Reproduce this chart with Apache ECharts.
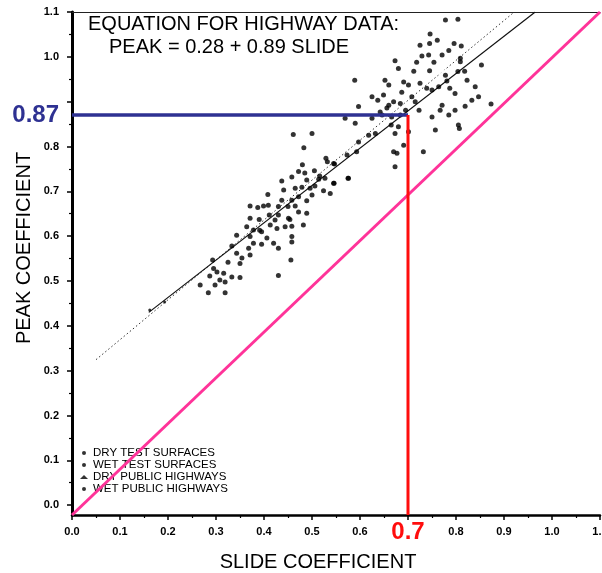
<!DOCTYPE html>
<html>
<head>
<meta charset="utf-8">
<script src="https://cdn.jsdelivr.net/npm/echarts@6.0.0/dist/echarts.min.js"></script>
<style>
  html, body { margin: 0; padding: 0; background: #fff; }
  #chart { width: 602px; height: 573px; }
</style>
</head>
<body>
<div id="chart"></div>
<script>
// Axis ranges and tick labels
const xTickValues = [0.0, 0.1, 0.2, 0.3, 0.4, 0.5, 0.6, 0.7, 0.8, 0.9, 1.0, 1.1];
const xMinorTicks = [0.05, 0.15, 0.25, 0.35, 0.45, 0.55, 0.65, 0.75, 0.85, 0.95, 1.05];
const yTickValues = [0.0, 0.1, 0.2, 0.3, 0.4, 0.5, 0.6, 0.7, 0.8, 0.9, 1.0, 1.1];
const yLabelValues = [0.0, 0.1, 0.2, 0.3, 0.4, 0.5, 0.6, 0.7, 0.8, 0.87, 1.0, 1.1];
const yMinorTicks = [0.05, 0.15, 0.25, 0.35, 0.45, 0.55, 0.65, 0.75, 0.85, 0.95, 1.05];

// Highlighted reading: slide 0.7 -> peak 0.87
const readSlide = 0.7;
const readPeak = 0.87;

// Regression for highway data
const fitIntercept = 0.28;
const fitSlope = 0.89;
const fitSlideRange = [0.05, 0.92];

// Overall fit through all data (solid line)
const overallFit = [[0.16, 0.43], [0.965, 1.10]];

// Measurements: [slide, peak]
const dryTestSurfaces = [[0.162, 0.435], [0.193, 0.453]];

const wetTestSurfaces = [
  [0.461, 0.827], [0.500, 0.829], [0.483, 0.797], [0.529, 0.774], [0.532, 0.766],
  [0.547, 0.761], [0.480, 0.759], [0.505, 0.746], [0.485, 0.741], [0.472, 0.744],
  [0.458, 0.732], [0.437, 0.723], [0.489, 0.725], [0.514, 0.727], [0.527, 0.729],
  [0.576, 0.729], [0.546, 0.718], [0.479, 0.709], [0.496, 0.707], [0.506, 0.712],
  [0.524, 0.701], [0.538, 0.695], [0.408, 0.693], [0.441, 0.703], [0.465, 0.707],
  [0.472, 0.688], [0.458, 0.680], [0.437, 0.680], [0.489, 0.679], [0.371, 0.667],
  [0.387, 0.664], [0.399, 0.667], [0.409, 0.669], [0.430, 0.666], [0.450, 0.666],
  [0.465, 0.667], [0.472, 0.654], [0.489, 0.651], [0.411, 0.647], [0.430, 0.647],
  [0.371, 0.640], [0.390, 0.637], [0.423, 0.636], [0.451, 0.640], [0.454, 0.637],
  [0.364, 0.621], [0.378, 0.614], [0.395, 0.610], [0.413, 0.625], [0.427, 0.617],
  [0.444, 0.621], [0.458, 0.622], [0.482, 0.625], [0.343, 0.602], [0.371, 0.599],
  [0.395, 0.582], [0.378, 0.584], [0.458, 0.599], [0.458, 0.587], [0.420, 0.584],
  [0.430, 0.573], [0.333, 0.578], [0.368, 0.573], [0.371, 0.558], [0.343, 0.562],
  [0.350, 0.539], [0.456, 0.547], [0.293, 0.547], [0.295, 0.528], [0.302, 0.520],
  [0.316, 0.517], [0.319, 0.498], [0.333, 0.509], [0.350, 0.508], [0.430, 0.512],
  [0.267, 0.491], [0.298, 0.491], [0.284, 0.474], [0.319, 0.474], [0.354, 0.551],
  [0.325, 0.542], [0.308, 0.502], [0.287, 0.511], [0.391, 0.613], [0.406, 0.596],
  [0.500, 0.692], [0.516, 0.734]
];

const dryPublicHighways = [
  [0.732, 0.967], [0.771, 0.964], [0.607, 0.859], [0.732, 0.840], [0.743, 0.848],
  [0.737, 0.820], [0.646, 0.807], [0.670, 0.818]
];

const wetPublicHighways = [
  [0.778, 1.082], [0.804, 1.084], [0.746, 1.051], [0.745, 1.030], [0.796, 1.030],
  [0.811, 1.024], [0.729, 1.002], [0.743, 1.004], [0.771, 1.004], [0.785, 1.014],
  [0.809, 0.997], [0.809, 0.989], [0.673, 0.991], [0.680, 0.974], [0.712, 0.968],
  [0.745, 0.969], [0.778, 0.959], [0.804, 0.967], [0.818, 0.968], [0.853, 0.982],
  [0.589, 0.948], [0.652, 0.948], [0.660, 0.937], [0.691, 0.944], [0.701, 0.937],
  [0.725, 0.941], [0.739, 0.930], [0.750, 0.926], [0.764, 0.933], [0.781, 0.946],
  [0.625, 0.911], [0.649, 0.915], [0.670, 0.900], [0.684, 0.896], [0.708, 0.911],
  [0.715, 0.900], [0.798, 0.918], [0.840, 0.933], [0.847, 0.911], [0.873, 0.895],
  [0.819, 0.890], [0.798, 0.881], [0.771, 0.892], [0.767, 0.881], [0.569, 0.863],
  [0.590, 0.852], [0.625, 0.863], [0.642, 0.877], [0.666, 0.866], [0.684, 0.870],
  [0.665, 0.848], [0.680, 0.844], [0.750, 0.866], [0.785, 0.870], [0.757, 0.837],
  [0.805, 0.848], [0.807, 0.840], [0.597, 0.810], [0.618, 0.825], [0.632, 0.829],
  [0.691, 0.803], [0.573, 0.781], [0.593, 0.788], [0.670, 0.788], [0.677, 0.785],
  [0.732, 0.788], [0.673, 0.755], [0.545, 0.762], [0.575, 0.729], [0.545, 0.718],
  [0.597, 0.889], [0.646, 0.870], [0.660, 0.892], [0.701, 0.833], [0.673, 0.829],
  [0.687, 0.921], [0.695, 0.881], [0.723, 0.881], [0.656, 0.886], [0.637, 0.903],
  [0.718, 0.988], [0.754, 0.988], [0.787, 0.930], [0.823, 0.948], [0.833, 0.903],
  [0.725, 1.026], [0.761, 1.037]
];

const seriesNames = ['DRY TEST SURFACES', 'WET TEST SURFACES', 'DRY PUBLIC HIGHWAYS', 'WET PUBLIC HIGHWAYS'];

// Plot frame
const xMin = 0, xMax = 1.1;
const yMin = -0.022, yMax = 1.1;

const FONT = '"Liberation Sans", Arial, sans-serif';
const BLUE = '#2e3192';
const RED = '#ff0d0d';
const PINK = '#ff3399';
const INK = '#000';

const near = (a, b) => Math.abs(a - b) < 1e-6;

const fitLine = fitSlideRange.map(s => [s, fitIntercept + fitSlope * s]);

const chart = echarts.init(document.getElementById('chart'), null, { renderer: 'canvas' });

const minorAxis = (pos, ticks) => ({
  type: 'value', min: pos === 'bottom' ? xMin : yMin, max: pos === 'bottom' ? xMax : yMax,
  position: pos,
  axisLine: { show: false, onZero: false },
  axisTick: { show: true, customValues: ticks, length: 3, lineStyle: { color: INK, width: 1.2 } },
  axisLabel: { show: false },
  splitLine: { show: false }
});

chart.setOption({
  animation: false,
  backgroundColor: '#fff',
  grid: { left: 72, right: 2, top: 12, bottom: 58, containLabel: false, outerBoundsMode: 'none' },
  legend: {
    data: [
      { name: seriesNames[0], icon: 'circle', itemStyle: { color: INK } },
      { name: seriesNames[1], icon: 'circle', itemStyle: { color: INK } },
      { name: seriesNames[2], icon: 'triangle', itemStyle: { color: INK, borderWidth: 0 } },
      { name: seriesNames[3], icon: 'circle', itemStyle: { color: INK } }
    ],
    orient: 'vertical',
    left: 80,
    top: 447,
    itemWidth: 8,
    itemHeight: 4,
    itemGap: 0,
    padding: 0,
    selectedMode: false,
    textStyle: { fontSize: 11.5, color: INK, fontFamily: FONT, lineHeight: 12 }
  },
  xAxis: [
    {
      type: 'value', min: xMin, max: xMax, position: 'bottom',
      axisLine: { show: true, onZero: false, lineStyle: { color: INK, width: 2.5 } },
      axisTick: { show: true, customValues: xTickValues, length: 5, lineStyle: { color: INK, width: 1.5 } },
      axisLabel: {
        customValues: xTickValues, margin: 17, verticalAlign: 'middle',
        fontSize: 11, fontWeight: 'bold', color: INK, fontFamily: FONT,
        formatter: v => near(v, readSlide) ? '{hl|' + v.toFixed(1) + '}' : v.toFixed(1),
        rich: { hl: { color: RED, fontSize: 24, fontWeight: 'bold', fontFamily: FONT } }
      },
      splitLine: { show: false }
    },
    minorAxis('bottom', xMinorTicks),
    {
      type: 'value', min: xMin, max: xMax, position: 'top',
      axisLine: { show: true, onZero: false, lineStyle: { color: '#222', width: 1.2 } },
      axisTick: { show: false }, axisLabel: { show: false }, splitLine: { show: false }
    }
  ],
  yAxis: [
    {
      type: 'value', min: yMin, max: yMax, position: 'left',
      axisLine: { show: true, onZero: false, lineStyle: { color: INK, width: 3 } },
      axisTick: { show: true, customValues: yTickValues, length: 5, lineStyle: { color: INK, width: 1.5 } },
      axisLabel: {
        customValues: yLabelValues, margin: 13,
        fontSize: 11, fontWeight: 'bold', color: INK, fontFamily: FONT,
        formatter: v => near(v, readPeak) ? '{hl|' + v.toFixed(2) + '}' : v.toFixed(1),
        rich: { hl: { color: BLUE, fontSize: 24, fontWeight: 'bold', fontFamily: FONT } }
      },
      splitLine: { show: false }
    },
    minorAxis('left', yMinorTicks)
  ],
  series: [
    {
      name: seriesNames[0], type: 'scatter', data: dryTestSurfaces,
      symbol: 'circle', symbolSize: 3, itemStyle: { color: INK }, z: 3
    },
    {
      name: seriesNames[1], type: 'scatter', data: wetTestSurfaces,
      symbol: 'circle', symbolSize: 5, itemStyle: { color: INK }, z: 3
    },
    {
      name: seriesNames[2], type: 'scatter', data: dryPublicHighways,
      symbol: 'emptyCircle', symbolSize: 6,
      itemStyle: { color: '#fff', borderColor: INK, borderWidth: 1.4 }, z: 3
    },
    {
      name: seriesNames[3], type: 'scatter', data: wetPublicHighways,
      symbol: 'circle', symbolSize: 5, itemStyle: { color: INK }, z: 3
    },
    {
      name: 'highway fit', type: 'line', data: fitLine, symbol: 'none', silent: true,
      lineStyle: { color: '#333', width: 1, type: [1.5, 2.5] }, z: 2
    },
    {
      name: 'overall fit', type: 'line', data: overallFit, symbol: 'none', silent: true,
      lineStyle: { color: '#111', width: 1.2 }, z: 2
    },
    {
      name: 'peak = slide', type: 'line', data: [[xMin, yMin], [xMax, yMax]],
      symbol: 'none', silent: true, lineStyle: { color: PINK, width: 3 }, z: 5
    },
    {
      name: 'peak reading', type: 'line', data: [[xMin, readPeak], [readSlide, readPeak]],
      symbol: 'none', silent: true, lineStyle: { color: BLUE, width: 3.5 }, z: 6
    },
    {
      name: 'slide reading', type: 'line', data: [[readSlide, yMin], [readSlide, readPeak]],
      symbol: 'none', silent: true, lineStyle: { color: RED, width: 3 }, z: 6
    }
  ],
  graphic: [
    {
      type: 'text', x: 88, y: 24, z: 10,
      style: { text: 'EQUATION FOR HIGHWAY DATA:', font: '20px ' + FONT, fill: INK, textVerticalAlign: 'middle' }
    },
    {
      type: 'text', x: 109, y: 47, z: 10,
      style: { text: 'PEAK = ' + fitIntercept + ' + ' + fitSlope + ' SLIDE', font: '20px ' + FONT, fill: INK, textVerticalAlign: 'middle' }
    },
    {
      type: 'text', x: 318, y: 562, z: 10,
      style: { text: 'SLIDE COEFFICIENT', font: '20px ' + FONT, fill: INK, textAlign: 'center', textVerticalAlign: 'middle' }
    },
    {
      type: 'text', x: 24, y: 248, rotation: Math.PI / 2, z: 10,
      style: { text: 'PEAK COEFFICIENT', font: '20px ' + FONT, fill: INK, textAlign: 'center', textVerticalAlign: 'middle' }
    }
  ]
});
</script>
</body>
</html>
